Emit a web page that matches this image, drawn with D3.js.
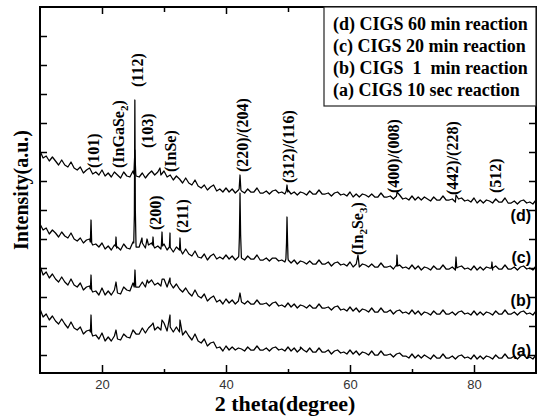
<!doctype html>
<html>
<head>
<meta charset="utf-8">
<script src="https://d3js.org/d3.v7.min.js"></script>
<style>
  body { margin: 0; background: #fff; }
  .serif { font-family: "Liberation Serif", "Times New Roman", serif; font-weight: bold; }
  .sans { font-family: "Liberation Sans", Arial, sans-serif; }
</style>
</head>
<body>
<svg width="543" height="417"></svg>
<script>
// 2 theta sampled every 0.5 degree from 10 to 90
var thetaStart = 10, thetaStep = 0.5;

// (d) CIGS 60 min
var baseD = [
  222,215,217,212,216,212,208,213,208,206, 211,205,203,206,200,203,205,199,201,198,
  203,197,200,196,201,198,195,201,197,196, 202,197,196,200,195,199,202,198,201,198,
  202,196,198,193,197,194,190,195,190,188, 193,187,185,188,183,186,188,182,184,181,
  185,181,184,180,183,182,180,184,181,181, 185,180,180,182,179,182,183,180,181,179,
  183,179,181,178,181,180,178,182,179,179, 183,179,179,180,177,180,181,178,179,177,
  181,176,179,176,179,178,176,179,176,176, 180,176,176,177,174,177,178,174,175,173,
  177,173,176,173,176,174,172,176,173,173, 177,173,173,174,171,174,175,172,173,171,
  175,170,173,170,173,172,170,174,171,171, 175,170,170,172,169,172,173,170,171,169,
  173
];
var peaksD = [
  [25.15,199],[25.25,214],[25.3,223],[25.36,212],[25.45,199],
  [29.35,205],
  [42.12,184],[42.26,198],[42.4,183],
  [49.72,182],[49.84,188],[49.96,181],
  [67.58,181],[77.1,178]
];

// (c) CIGS 20 min
var baseC = [
  149,143,145,139,143,140,136,141,137,135, 140,134,132,135,130,133,134,128,129,126,
  130,124,127,123,128,126,123,129,125,124, 131,126,126,130,125,128,130,125,127,124,
  129,123,126,121,126,123,119,124,119,117, 122,116,115,119,113,117,119,114,116,114,
  118,114,117,113,116,115,113,117,114,114, 118,113,113,115,112,115,115,112,113,111,
  115,110,113,109,112,111,109,112,109,109, 113,109,109,111,107,110,111,108,109,107,
  111,106,109,106,109,108,106,109,106,106, 110,106,106,107,104,107,108,105,106,104,
  108,104,107,103,106,105,103,107,104,104, 108,104,104,106,103,106,107,104,105,103,
  107,103,106,103,106,105,103,107,104,104, 108,104,104,106,103,106,107,104,105,103,
  107
];
var peaksC = [
  [18.12,131],[18.23,153],[18.34,130],
  [22.17,127],[22.26,136],[22.36,125],
  [25.12,130],[25.22,158],[25.3,273],[25.38,162],[25.48,130],
  [26.45,135],[27.26,134],
  [28.14,128],[28.23,136],[28.33,127],
  [29.58,128],[29.68,141],[29.78,127],
  [30.87,126],[30.97,140],[31.07,125],
  [32.5,124],[32.58,135],[32.68,123],
  [42.06,117],[42.16,136],[42.26,180],[42.36,138],[42.48,116],
  [49.66,114],[49.76,130],[49.84,156],[49.93,131],[50.04,113],
  [61.29,118],
  [67.48,108],[67.58,118],[67.7,107],
  [77.0,106],[77.1,116],[77.22,105],
  [82.8,105],[82.9,111],[83.02,105]
];

// (b) CIGS 1 min
var baseB = [
  107,98,101,95,99,94,91,96,91,88, 94,88,86,90,83,86,87,81,82,78,
  85,78,82,78,83,80,79,86,83,82, 90,86,86,91,86,90,93,88,90,87,
  94,86,90,85,89,84,81,85,80,77, 83,77,75,79,72,75,77,71,73,69,
  74,70,73,69,72,71,69,72,69,69, 73,69,69,70,67,70,71,67,68,66,
  70,66,69,65,68,67,65,68,65,65, 69,65,65,66,63,66,67,63,64,62,
  66,62,65,61,64,63,61,65,61,61, 65,61,61,63,59,62,63,60,61,59,
  63,59,62,58,61,60,58,62,59,59, 63,59,59,61,58,61,62,59,60,58,
  62,58,61,58,61,60,58,62,59,59, 63,59,59,61,58,61,62,59,60,58,
  62
];
var peaksB = [
  [18.13,84],[18.23,98],[18.33,83],
  [22.26,91],
  [25.2,86],[25.32,103],[25.44,86],
  [27.3,93],[29.7,94],[30.97,95],
  [42.26,80]
];

// (a) CIGS 10 sec
var baseA = [
  64,56,59,53,57,52,49,54,49,45, 51,45,43,46,39,42,43,37,38,34,
  40,32,36,32,37,34,33,39,36,35, 43,39,39,45,40,45,48,43,46,43,
  50,42,46,41,46,41,38,42,37,33, 39,32,30,34,27,30,31,25,26,22,
  27,23,26,23,25,24,22,26,23,23, 27,23,23,25,22,25,26,23,24,22,
  26,22,25,21,24,23,21,25,21,21, 25,21,21,23,19,22,23,20,21,19,
  23,19,22,18,21,20,18,22,18,18, 22,18,18,19,16,19,20,17,17,15,
  19,15,18,15,18,16,14,18,15,15, 19,15,15,17,14,17,18,15,16,14,
  18,14,17,14,17,16,14,18,15,15, 19,15,15,17,14,17,18,15,16,14,
  18
];
var peaksA = [
  [18.13,41],[18.23,58],[18.33,40],
  [22.26,43],[28.23,50],[29.68,53],[30.97,58],[32.58,53],
  [52.0,26]
];

var xTicksMajor = [20, 40, 60, 80];
var xTicksMinor = [30, 50, 70];
var yTicks = [18, 47, 76, 105, 134, 163, 192, 221, 250, 279, 308, 337];

var curveLabels = [["(d)", 158], ["(c)", 116], ["(b)", 73], ["(a)", 23]];
var legendLabels = ["(d) CIGS 60 min reaction", "(c) CIGS 20 min reaction",
                    "(b) CIGS  1  min reaction", "(a) CIGS 10 sec reaction"];
// text (with _ before a subscript char), 2theta of label centre, intensity at label foot
var peakLabels = [
  ["(101)", 18.55, 205], ["(InGaSe_2)", 22.6, 205], ["(112)", 25.65, 286],
  ["(103)", 27.26, 225], ["(InSe)", 30.97, 201], ["(220)/(204)", 42.58, 201],
  ["(312)/(116)", 50.0, 190], ["(400)/(008)", 66.94, 180], ["(442)/(228)", 76.45, 178],
  ["(512)", 83.4, 180], ["(200)", 28.55, 143], ["(211)", 32.9, 140],
  ["(In_2Se_3)", 61.13, 118]
];

var svg = d3.select("svg");
var plotL = 40, plotR = 536, plotT = 7, plotB = 373;

var x = d3.scaleLinear().domain([10, 90]).range([plotL, plotR]);
var y = d3.scaleLinear().domain([0, 366]).range([plotB, plotT]);

function build(base, peaks) {
  var pts = base.map(function(v, i) { return [thetaStart + i * thetaStep, v]; });
  return pts.concat(peaks).sort(function(a, b) { return a[0] - b[0]; });
}
var series = [build(baseD, peaksD), build(baseC, peaksC), build(baseB, peaksB), build(baseA, peaksA)];

var line = d3.line().x(function(d) { return x(d[0]); }).y(function(d) { return y(d[1]); });

svg.selectAll(".curve")
   .data(series)
   .enter().append("path")
   .attr("class", "curve")
   .attr("d", line)
   .attr("fill", "none")
   .attr("stroke", "#000")
   .attr("stroke-width", 1.25)
   .attr("stroke-linejoin", "round");

// axes, ticks pointing inward
var gx = svg.append("g").attr("transform", "translate(0," + plotB + ")")
  .call(d3.axisBottom(x).tickValues(xTicksMajor).tickSize(-8).tickPadding(7));
gx.selectAll("text").attr("class", "sans").attr("font-size", "13px").attr("fill", "#333");
svg.append("g").attr("transform", "translate(0," + plotB + ")")
  .call(d3.axisBottom(x).tickValues(xTicksMinor).tickSize(-4).tickFormat(""));
svg.append("g").attr("transform", "translate(0," + plotT + ")")
  .call(d3.axisTop(x).tickValues(xTicksMajor).tickSize(-7).tickFormat(""));
svg.append("g").attr("transform", "translate(0," + plotT + ")")
  .call(d3.axisTop(x).tickValues(xTicksMinor).tickSize(-5).tickFormat(""));
svg.append("g").attr("transform", "translate(" + plotL + ",0)")
  .call(d3.axisLeft(y).tickValues(yTicks).tickSize(-7).tickFormat(""));
svg.append("g").attr("transform", "translate(" + plotR + ",0)")
  .call(d3.axisRight(y).tickValues(yTicks).tickSize(-7).tickFormat(""));
svg.selectAll(".domain").remove();
svg.selectAll(".tick line").attr("stroke", "#000").attr("stroke-width", 1.5);

svg.append("rect")
   .attr("x", plotL).attr("y", plotT)
   .attr("width", plotR - plotL).attr("height", plotB - plotT)
   .attr("fill", "none").attr("stroke", "#000").attr("stroke-width", 2);

// legend box
svg.append("rect")
   .attr("x", 324).attr("y", plotT)
   .attr("width", plotR - 324).attr("height", 99)
   .attr("fill", "#fff").attr("stroke", "#222").attr("stroke-width", 1.2);
svg.selectAll(".leg")
   .data(legendLabels)
   .enter().append("text")
   .attr("class", "serif")
   .attr("x", 333)
   .attr("y", function(d, i) { return 30 + i * 22; })
   .attr("font-size", "18px")
   .attr("xml:space", "preserve")
   .style("white-space", "pre")
   .text(function(d) { return d; });

// curve labels
svg.selectAll(".clab")
   .data(curveLabels)
   .enter().append("text")
   .attr("class", "sans")
   .attr("font-weight", "bold")
   .attr("font-size", "16px")
   .attr("text-anchor", "end")
   .attr("x", plotR - 5)
   .attr("y", function(d) { return y(d[1]) + 6; })
   .text(function(d) { return d[0]; });

// peak labels, rotated
svg.selectAll(".plab")
   .data(peakLabels)
   .enter().append("text")
   .attr("class", "serif")
   .attr("font-size", "16px")
   .attr("transform", function(d) { return "translate(" + x(d[1]) + "," + y(d[2]) + ") rotate(-90)"; })
   .attr("dy", "0.35em")
   .each(function(d) {
     var t = d3.select(this);
     var parts = d[0].split("_");
     t.append("tspan").text(parts[0]);
     for (var i = 1; i < parts.length; i++) {
       t.append("tspan").attr("font-size", "11px").attr("dy", 4).text(parts[i][0]);
       t.append("tspan").attr("dy", -4).text(parts[i].slice(1));
     }
   });

// axis titles
svg.append("text")
   .attr("class", "serif")
   .attr("font-size", "22px")
   .attr("text-anchor", "middle")
   .attr("x", (plotL + plotR) / 2 - 3)
   .attr("y", 411)
   .text("2 theta(degree)");
svg.append("text")
   .attr("class", "serif")
   .attr("font-size", "20px")
   .attr("text-anchor", "middle")
   .attr("transform", "translate(21," + ((plotT + plotB) / 2) + ") rotate(-90)")
   .attr("dy", "0.35em")
   .text("Intensity(a.u.)");
</script>
</body>
</html>
